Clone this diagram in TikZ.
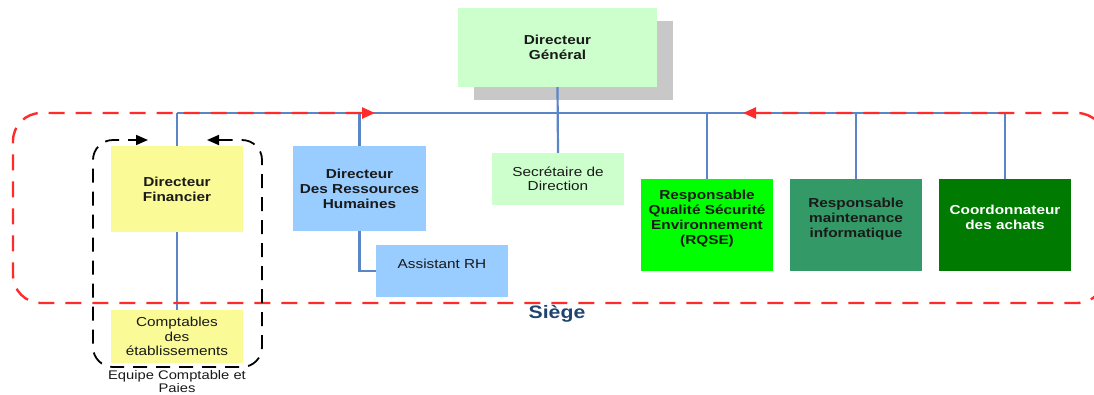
\documentclass[tikz,border=0pt]{standalone}
\usepackage{fontspec}
\setmainfont{Liberation Sans}[FakeStretch=1.18]
\usetikzlibrary{arrows.meta,shadows}
\definecolor{dggreen}{HTML}{CCFFCC}
\definecolor{shadowgray}{HTML}{C8C8C8}
\definecolor{finyellow}{HTML}{FAFA96}
\definecolor{rhblue}{HTML}{99CCFF}
\definecolor{rqsegreen}{HTML}{00FF00}
\definecolor{maintgreen}{HTML}{339966}
\definecolor{achatgreen}{HTML}{007A00}
\definecolor{busblue}{HTML}{5A86C8}
\definecolor{sitered}{HTML}{FF2A2A}
\definecolor{siegeblue}{HTML}{1F4470}
\definecolor{txt}{HTML}{1A1A1A}
\begin{document}
\begin{tikzpicture}[x=1pt,y=-1pt,
  box/.style={rectangle, inner sep=0pt, align=center, text=txt,
    font=\fontsize{13}{15}\selectfont\bfseries},
  plainbox/.style={box, font=\fontsize{13}{14.5}\selectfont},
  bus/.style={draw=busblue, line width=2.2pt},
  sitedash/.style={draw=sitered, line width=2.4pt, dash pattern=on 16pt off 11pt,
    rounded corners=28pt, {Triangle[length=13pt,width=11pt]}-{Triangle[length=13pt,width=11pt]}},
  teamdash/.style={draw=black, line width=1.8pt, dash pattern=on 14pt off 9pt,
    rounded corners=20pt, {Triangle[length=12pt,width=10pt]}-{Triangle[length=12pt,width=10pt]}},
]
\useasboundingbox (0,0) rectangle (1094,394);

% boxes
\node[box, fill=dggreen, minimum width=199pt, minimum height=79pt,
  general shadow={fill=shadowgray, shadow xshift=16pt, shadow yshift=-13pt}]
  (dg) at (557.5,47.5) {Directeur\\Général};
\node[box, fill=finyellow, minimum width=132pt, minimum height=86pt] (df) at (177,189) {Directeur\\Financier};
\node[plainbox, fill=finyellow, minimum width=132pt, minimum height=53pt] (compt) at (177,336.5) {Comptables\\des\\établissements};
\node[box, fill=rhblue, minimum width=133pt, minimum height=85pt] (drh) at (359.5,188.5) {Directeur\\Des Ressources\\Humaines};
\node[plainbox, fill=rhblue, minimum width=132pt, minimum height=52pt] (asst) at (442,271) {Assistant RH\\ \mbox{}};
\node[plainbox, fill=dggreen, minimum width=132pt, minimum height=52pt] (sec) at (558,179) {Secrétaire de\\Direction};
\node[box, fill=rqsegreen, minimum width=132pt, minimum height=92pt] (rqse) at (707,225) {Responsable\\Qualité Sécurité\\Environnement\\(RQSE)\\ \mbox{}};
\node[box, fill=maintgreen, minimum width=132pt, minimum height=92pt] (maint) at (856,225) {Responsable\\maintenance\\informatique\\ \mbox{}};
\node[box, fill=achatgreen, text=white, minimum width=132pt, minimum height=92pt] (achat) at (1005,225) {Coordonnateur\\des achats\\ \mbox{}};

% hierarchy lines
\coordinate (busL) at (177,113);
\coordinate (busR) at (1005,113);
\draw[bus] (busL) -- (busR);
\draw[bus] (dg.south) -- (sec.north);
\draw[bus] (busL) -- (df.north);
\draw[bus] (df.south) -- (compt.north);
\draw[bus] (drh.north |- busL) -- (drh.north);
\draw[bus] (drh.south) |- (asst.west);
\draw[bus] (rqse.north |- busL) -- (rqse.north);
\draw[bus] (maint.north |- busL) -- (maint.north);
\draw[bus] (achat.north |- busL) -- (achat.north);

% site boundary
\coordinate (siteA) at (743,113);
\coordinate (siteB) at (375,113);
\draw[sitedash] (siteA) -- (1105,113) -- (1105,303) -- (13,303) -- (13,113) -- (siteB);

% accounting team boundary
\coordinate (teamA) at (207,140);
\coordinate (teamB) at (148,140);
\draw[teamdash] (teamA) -- (262,140) -- (262,367) -- (93,367) -- (93,140) -- (teamB);

% labels
\node[align=center, text=txt, font=\fontsize{12.5}{13}\selectfont, inner sep=0pt] (team) at (177,382) {Equipe Comptable et\\Paies};
\node[text=siegeblue, font=\fontsize{18}{20}\selectfont\bfseries, inner sep=0pt] (siege) at (557,314) {Siège};
\end{tikzpicture}
\end{document}
